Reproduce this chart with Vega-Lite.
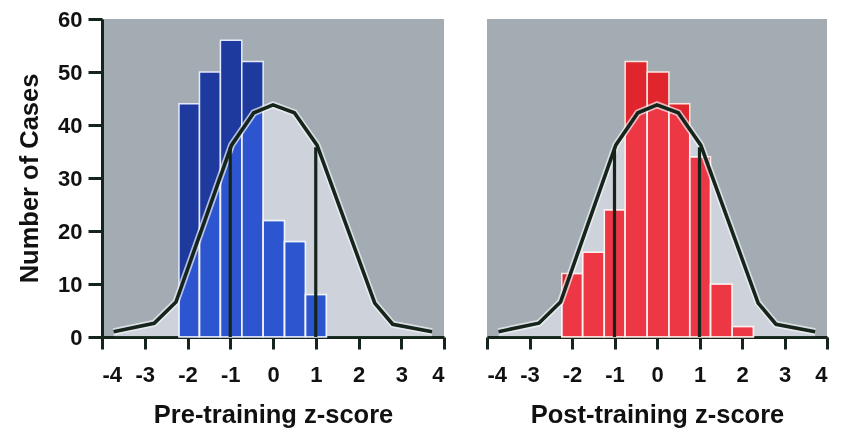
{
  "$schema": "https://vega.github.io/schema/vega-lite/v6.json",
  "background": "white",
  "padding": {"left": 17, "top": 8, "right": 8, "bottom": 0},
  "bounds": "flush",
  "spacing": 43,
  "config": {
    "view": {"stroke": null},
    "axis": {
      "labelFont": "Liberation Sans", "labelFontWeight": "bold", "labelFontSize": 22, "labelColor": "#111111",
      "titleFont": "Liberation Sans", "titleFontWeight": "bold", "titleFontSize": 25.5, "titleColor": "#111111",
      "domainColor": "#15251b", "domainWidth": 3, "tickColor": "#15251b", "tickWidth": 3, "grid": false,
      "labelExpr": "datum.value < 0 ? '-' + abs(datum.value) : '' + datum.value"
    }
  },
  "datasets": {
    "pre": [
      {"x": -2.2, "xe": -1.72, "y": 44},
      {"x": -1.72, "xe": -1.23, "y": 50},
      {"x": -1.23, "xe": -0.73, "y": 56},
      {"x": -0.73, "xe": -0.23, "y": 52},
      {"x": -0.23, "xe": 0.27, "y": 22},
      {"x": 0.27, "xe": 0.76, "y": 18},
      {"x": 0.76, "xe": 1.25, "y": 8}
    ],
    "post": [
      {"x": -2.24, "xe": -1.75, "y": 12},
      {"x": -1.75, "xe": -1.24, "y": 16},
      {"x": -1.24, "xe": -0.75, "y": 24},
      {"x": -0.75, "xe": -0.23, "y": 52},
      {"x": -0.23, "xe": 0.28, "y": 50},
      {"x": 0.28, "xe": 0.77, "y": 44},
      {"x": 0.77, "xe": 1.26, "y": 34},
      {"x": 1.26, "xe": 1.77, "y": 10},
      {"x": 1.77, "xe": 2.27, "y": 2}
    ],
    "curve": [
      {"x": -3.73, "y": 1.0},
      {"x": -2.78, "y": 2.6},
      {"x": -2.27, "y": 6.6},
      {"x": -0.97, "y": 36.2},
      {"x": -0.45, "y": 42.3},
      {"x": 0.0, "y": 43.8},
      {"x": 0.5, "y": 42.3},
      {"x": 1.03, "y": 36.2},
      {"x": 2.38, "y": 6.4},
      {"x": 2.8, "y": 2.4},
      {"x": 3.72, "y": 1.0}
    ],
    "sd": [
      {"x": -1, "y": 35.8},
      {"x": 1, "y": 35.8}
    ]
  },
  "hconcat": [
    {
      "width": 342,
      "height": 318,
      "view": {"fill": "#a2acb2"},
      "encoding": {
        "x": {"field": "x", "type": "quantitative", "scale": {"domain": [-4, 4], "nice": false, "zero": false},
              "axis": {"values": [-4, -3, -2, -1, 0, 1, 2, 3, 4], "tickSize": 12, "labelPadding": 15, "titlePadding": 17, "title": "Pre-training z-score"}},
        "y": {"field": "y", "type": "quantitative", "scale": {"domain": [0, 60], "nice": false},
              "axis": {"values": [0, 10, 20, 30, 40, 50, 60], "tickSize": 14, "labelPadding": 6, "titlePadding": 15, "title": "Number of Cases"}}
      },
      "layer": [
        {"data": {"name": "pre"}, "mark": {"type": "rect", "color": "#1e3a9e", "stroke": "#e6eaff", "strokeWidth": 1.5},
         "encoding": {"x2": {"field": "xe"}, "y2": {"datum": 0}}},
        {"data": {"name": "curve"}, "mark": {"type": "area", "color": "#bcbbc2", "blend": "overlay"}, "encoding": {}},
        {"data": {"name": "curve"}, "mark": {"type": "line", "color": "#f2f3f8", "strokeWidth": 7, "opacity": 0.7}, "encoding": {}},
        {"data": {"name": "sd"}, "mark": {"type": "rule", "color": "#15251b", "strokeWidth": 3.2}, "encoding": {"y2": {"datum": 0}}},
        {"data": {"name": "curve"}, "mark": {"type": "line", "color": "#15251b", "strokeWidth": 3.6}, "encoding": {}}
      ]
    },
    {
      "width": 340,
      "height": 318,
      "view": {"fill": "#a2acb2"},
      "encoding": {
        "x": {"field": "x", "type": "quantitative", "scale": {"domain": [-4, 4], "nice": false, "zero": false},
              "axis": {"values": [-4, -3, -2, -1, 0, 1, 2, 3, 4], "tickSize": 12, "labelPadding": 15, "titlePadding": 17, "title": "Post-training z-score"}},
        "y": {"field": "y", "type": "quantitative", "scale": {"domain": [0, 60], "nice": false}, "axis": null}
      },
      "layer": [
        {"data": {"name": "post"}, "mark": {"type": "rect", "color": "#e0252d", "stroke": "#ffe6e0", "strokeWidth": 1.5},
         "encoding": {"x2": {"field": "xe"}, "y2": {"datum": 0}}},
        {"data": {"name": "curve"}, "mark": {"type": "area", "color": "#bcbbc2", "blend": "overlay"}, "encoding": {}},
        {"data": {"name": "curve"}, "mark": {"type": "line", "color": "#f2f3f8", "strokeWidth": 7, "opacity": 0.7}, "encoding": {}},
        {"data": {"name": "sd"}, "mark": {"type": "rule", "color": "#15251b", "strokeWidth": 3.2}, "encoding": {"y2": {"datum": 0}}},
        {"data": {"name": "curve"}, "mark": {"type": "line", "color": "#15251b", "strokeWidth": 3.6}, "encoding": {}}
      ]
    }
  ]
}
